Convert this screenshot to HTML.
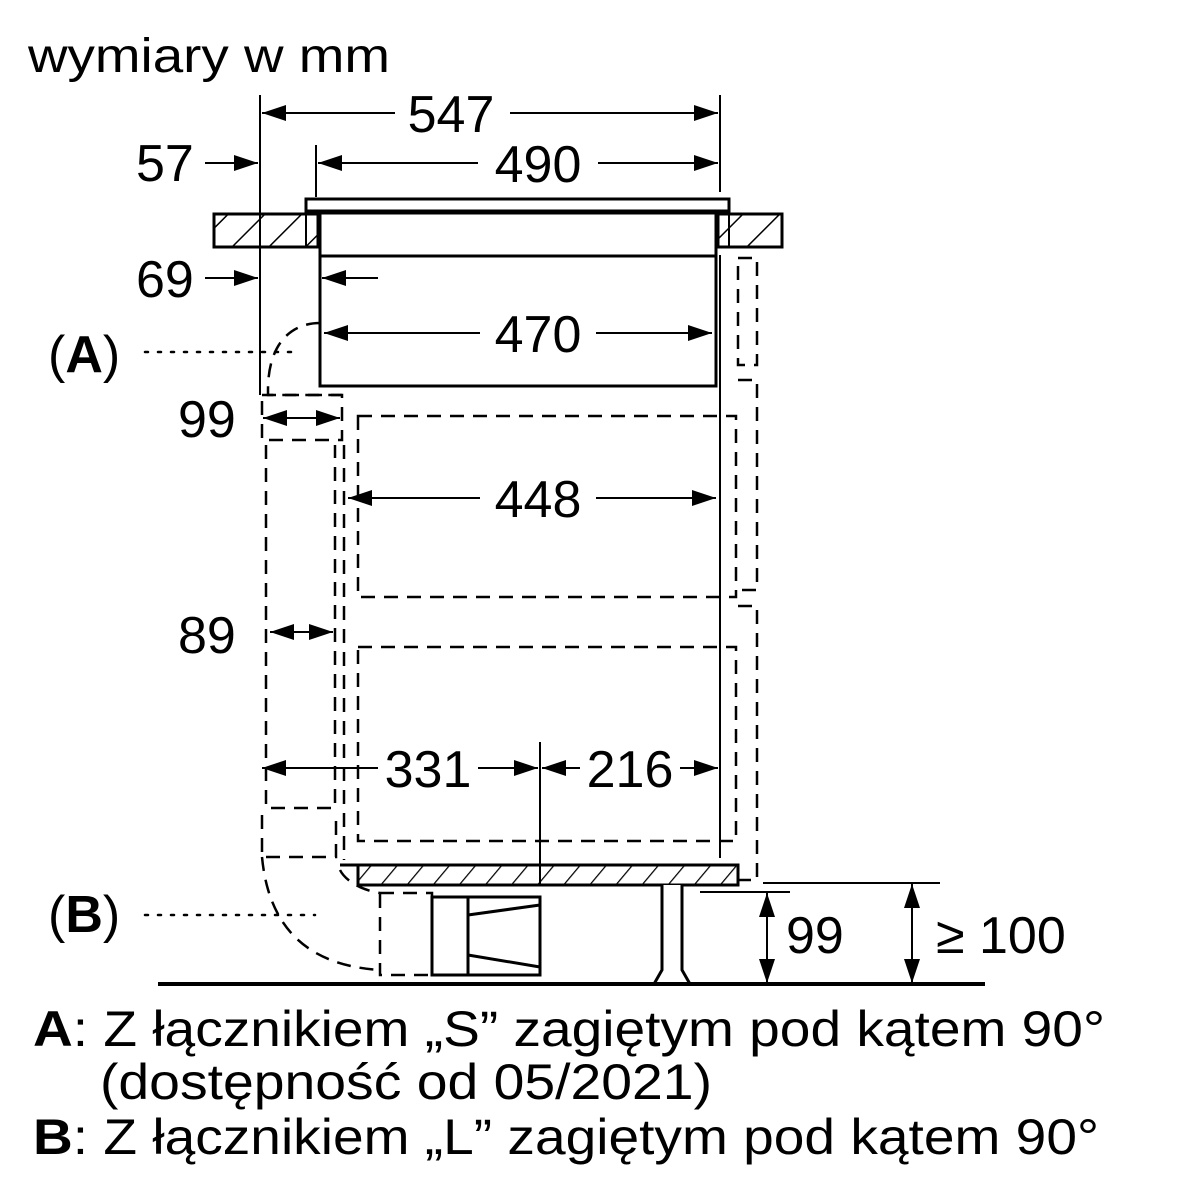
<!DOCTYPE html>
<html><head><meta charset="utf-8"><style>html,body{margin:0;padding:0;background:#fff}svg{display:block}</style></head>
<body>
<svg width="1200" height="1200" viewBox="0 0 1200 1200" xmlns="http://www.w3.org/2000/svg" font-family="Liberation Sans, sans-serif">
<defs>
<marker id="a" viewBox="0 0 24 16" refX="24" refY="8" markerWidth="24" markerHeight="16" markerUnits="userSpaceOnUse" orient="auto-start-reverse"><path d="M0,0 L24,8 L0,16 Z" fill="#000"/></marker>
<pattern id="h" patternUnits="userSpaceOnUse" width="26" height="26" patternTransform="rotate(45)"><line x1="0" y1="0" x2="0" y2="26" stroke="#000" stroke-width="3"/></pattern>
<pattern id="h2" patternUnits="userSpaceOnUse" width="20" height="20" patternTransform="rotate(40)"><line x1="0" y1="0" x2="0" y2="20" stroke="#000" stroke-width="2.5"/></pattern>
</defs>
<rect width="1200" height="1200" fill="#fff"/>
<text x="28" y="72" font-size="48" textLength="362" lengthAdjust="spacingAndGlyphs">wymiary w mm</text>

<!-- glass & countertop -->
<g stroke="#000" stroke-width="3">
<rect x="306" y="199" width="423" height="12" fill="#fff"/>
<rect x="214" y="214" width="104" height="33" fill="url(#h)"/>
<rect x="718" y="214" width="64" height="33" fill="url(#h)"/>
<rect x="320" y="213" width="396" height="43" fill="#fff"/>
<rect x="320" y="256" width="396" height="130" fill="#fff"/>
<line x1="306" y1="200" x2="306" y2="247" stroke-width="2"/>
<line x1="729" y1="200" x2="729" y2="247" stroke-width="2"/>
</g>

<g stroke="#000" fill="none" stroke-width="2">
<line x1="260" y1="95" x2="260" y2="395"/>
<line x1="720" y1="95" x2="720" y2="192"/>
<line x1="316" y1="145" x2="316" y2="197"/>
<line x1="720" y1="255" x2="720" y2="858"/>
<line x1="540" y1="742" x2="540" y2="885"/>
<line x1="262" y1="113" x2="395" y2="113" marker-start="url(#a)"/>
<line x1="510" y1="113" x2="718" y2="113" marker-end="url(#a)"/>
<line x1="318" y1="163" x2="478" y2="163" marker-start="url(#a)"/>
<line x1="598" y1="163" x2="718" y2="163" marker-end="url(#a)"/>
<line x1="205" y1="163" x2="258" y2="163" marker-end="url(#a)"/>
<line x1="205" y1="278" x2="258" y2="278" marker-end="url(#a)"/>
<line x1="378" y1="278" x2="322" y2="278" marker-end="url(#a)"/>
<line x1="324" y1="333" x2="480" y2="333" marker-start="url(#a)"/>
<line x1="596" y1="333" x2="712" y2="333" marker-end="url(#a)"/>
<line x1="263" y1="418" x2="340" y2="418" marker-start="url(#a)" marker-end="url(#a)"/>
<line x1="348" y1="498" x2="480" y2="498" marker-start="url(#a)"/>
<line x1="596" y1="498" x2="716" y2="498" marker-end="url(#a)"/>
<line x1="270" y1="632" x2="333" y2="632" marker-start="url(#a)" marker-end="url(#a)"/>
<line x1="262" y1="768" x2="378" y2="768" marker-start="url(#a)"/>
<line x1="478" y1="768" x2="538" y2="768" marker-end="url(#a)"/>
<line x1="542" y1="768" x2="580" y2="768" marker-start="url(#a)"/>
<line x1="680" y1="768" x2="718" y2="768" marker-end="url(#a)"/>
<line x1="767" y1="893" x2="767" y2="983" marker-start="url(#a)" marker-end="url(#a)"/>
<line x1="912" y1="884" x2="912" y2="983" marker-start="url(#a)" marker-end="url(#a)"/>
<line x1="763" y1="883" x2="940" y2="883"/>
<line x1="700" y1="892" x2="790" y2="892"/>
</g>

<g stroke="#000" fill="none" stroke-width="2.5" stroke-dasharray="14,9">
<path d="M320,323 C290,323 268,345 268,390 L268,395 L342,395"/>
<rect x="262" y="395" width="80" height="45"/>
<path d="M266,445 L266,808 L335,808 L335,445"/>
<line x1="344" y1="445" x2="344" y2="860"/>
<rect x="358" y="416" width="378" height="181"/>
<rect x="358" y="647" width="378" height="194"/>
<path d="M738,258 L757,258 L757,365 L738,365 Z"/>
<path d="M738,380 L757,380 L757,590 L738,590"/>
<path d="M738,606 L757,606 L757,880 L738,880"/>
<path d="M262,815 L262,857 L336,857 L336,815"/>
<path d="M262,857 C268,920 300,965 380,970"/>
<path d="M340,870 C345,880 360,890 380,893"/>
<rect x="380" y="893" width="52" height="82"/>
</g>
<g stroke="#000" fill="none" stroke-width="2.5" stroke-dasharray="3,10" stroke-linecap="round">
<line x1="145" y1="352" x2="300" y2="352"/>
<line x1="145" y1="915" x2="315" y2="915"/>
</g>

<g stroke="#000" stroke-width="3">
<line x1="340" y1="865" x2="738" y2="865"/>
<rect x="358" y="865" width="380" height="20" fill="url(#h2)"/>
<rect x="432" y="897" width="108" height="78" fill="#fff"/>
<line x1="468" y1="897" x2="468" y2="975"/>
<path d="M468,915 L540,905 M468,955 L540,967" fill="none"/>
<path d="M662,885 L662,970 L654,984 L690,984 L682,970 L682,885" fill="#fff"/>
<line x1="158" y1="984" x2="985" y2="984" stroke-width="4"/>
</g>

<g font-size="52" fill="#000">
<text x="451" y="132" text-anchor="middle">547</text>
<text x="538" y="182" text-anchor="middle">490</text>
<text x="136" y="181">57</text>
<text x="136" y="297">69</text>
<text x="538" y="352" text-anchor="middle">470</text>
<text x="178" y="437">99</text>
<text x="538" y="517" text-anchor="middle">448</text>
<text x="178" y="653">89</text>
<text x="428" y="787" text-anchor="middle">331</text>
<text x="630" y="787" text-anchor="middle">216</text>
<text x="786" y="953">99</text>
<text x="936" y="953">≥ 100</text>
<text x="48" y="372">(<tspan font-weight="bold">A</tspan>)</text>
<text x="48" y="932">(<tspan font-weight="bold">B</tspan>)</text>
</g>
<g font-size="50" fill="#000">
<text x="33" y="1046" textLength="1072" lengthAdjust="spacingAndGlyphs"><tspan font-weight="bold">A</tspan>: Z łącznikiem „S” zagiętym pod kątem 90°</text>
<text x="100" y="1099" textLength="612" lengthAdjust="spacingAndGlyphs">(dostępność od 05/2021)</text>
<text x="33" y="1154" textLength="1066" lengthAdjust="spacingAndGlyphs"><tspan font-weight="bold">B</tspan>: Z łącznikiem „L” zagiętym pod kątem 90°</text>
</g>
</svg>
</body></html>
